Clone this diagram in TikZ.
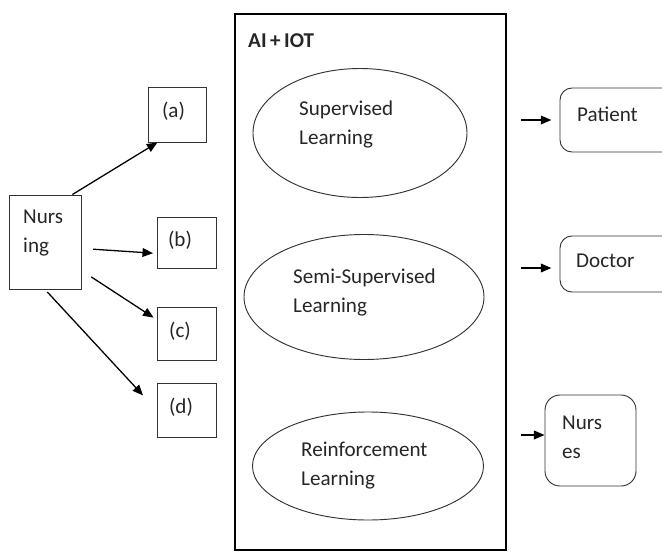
\documentclass[tikz,border=0pt]{standalone}
\usepackage{fontspec}
\setmainfont{Carlito}
\usetikzlibrary{arrows.meta,shapes.geometric}

\tikzset{
    box/.style={draw=black!80, line width=0.8pt, rectangle, inner sep=0pt},
    roundbox/.style={box, rounded corners=0.36cm},
    oval/.style={draw=black!80, line width=0.8pt, ellipse, inner sep=0pt},
    txt/.style={inner sep=0pt, anchor=base west, align=left, text=black!85,
        font=\fontsize{18pt}{24.5pt}\selectfont},
    arr/.style={line width=1.1pt, -{Triangle[length=9pt,width=7.5pt]}}
}

\begin{document}
\begin{tikzpicture}[x=0.03cm, y=0.03cm]
    \useasboundingbox (0,0) rectangle (662,-552);
    % left side
    \node [box, minimum width=2.16cm, minimum height=2.82cm] (nursing) at (45,-242) {};
    \node [box, minimum width=1.74cm, minimum height=1.65cm] (a) at (177,-114.5) {};
    \node [box, minimum width=1.77cm, minimum height=1.53cm] (b) at (186.5,-242.5) {};
    \node [box, minimum width=1.77cm, minimum height=1.59cm] (c) at (186.5,-333.5) {};
    \node [box, minimum width=1.77cm, minimum height=1.62cm] (d) at (186.5,-410) {};
    \node [txt] (nursingtxt) at (23,-252) {Nurs\\ing};
    \node [txt, anchor=center] (atxt) at (173.5,-111) {(a)};
    \node [txt, anchor=center] (btxt) at (180,-240) {(b)};
    \node [txt, anchor=center] (ctxt) at (180,-331) {(c)};
    \node [txt, anchor=center] (dtxt) at (181,-407) {(d)};
    \draw [arr] (nursing.60) -- (a.235);
    \draw [arr, shorten <=10pt, shorten >=3pt] (nursing.-10) -- (b.200);
    \draw [arr, shorten <=10pt, shorten >=3pt] (nursing.-38) -- (c.155);
    \draw [arr, shorten <=3pt, shorten >=17pt] (nursing.south) -- (d.west);
    % AI + IOT block
    \node [draw=black, line width=2pt, rectangle, inner sep=0pt,
        minimum width=8.13cm, minimum height=16.08cm] (aiiot) at (370.5,-282) {};
    \node [txt, font=\fontsize{18pt}{24.5pt}\bfseries] (aiiottxt) at (248,-47) {AI\,+\,IOT};
    \node [oval, minimum width=6.42cm, minimum height=3.87cm] (sup) at (360,-133) {};
    \node [oval, minimum width=7.2cm, minimum height=3.75cm] (semi) at (364,-297) {};
    \node [oval, minimum width=6.93cm, minimum height=3.24cm] (reinf) at (368,-466) {};
    \node [txt] (suptxt) at (299,-144) {Supervised\\Learning};
    \node [txt] (semitxt) at (293,-312) {Semi-Supervised\\Learning};
    \node [txt] (reinftxt) at (301,-485) {Reinforcement\\Learning};
    % right side
    \node [roundbox, minimum width=3.6cm, minimum height=1.92cm] (patient) at (620,-120) {};
    \node [roundbox, minimum width=3.6cm, minimum height=1.68cm] (doctor) at (620,-264) {};
    \node [roundbox, rounded corners=0.45cm, minimum width=2.73cm, minimum height=2.73cm] (nurses) at (590.5,-440.5) {};
    \node [txt] (patienttxt) at (577,-121) {Patient};
    \node [txt] (doctortxt) at (576,-267) {Doctor};
    \node [txt] (nursestxt) at (562,-458) {Nurs\\es};
    \coordinate (p1) at (521,-120);
    \coordinate (p2) at (521,-268);
    \coordinate (p3) at (521,-435);
    \draw [arr, shorten >=7pt] (p1) -- (p1 -| patient.west);
    \draw [arr, shorten >=7pt] (p2) -- (p2 -| doctor.west);
    \draw [arr] (p3) -- (p3 -| nurses.west);
\end{tikzpicture}
\end{document}
